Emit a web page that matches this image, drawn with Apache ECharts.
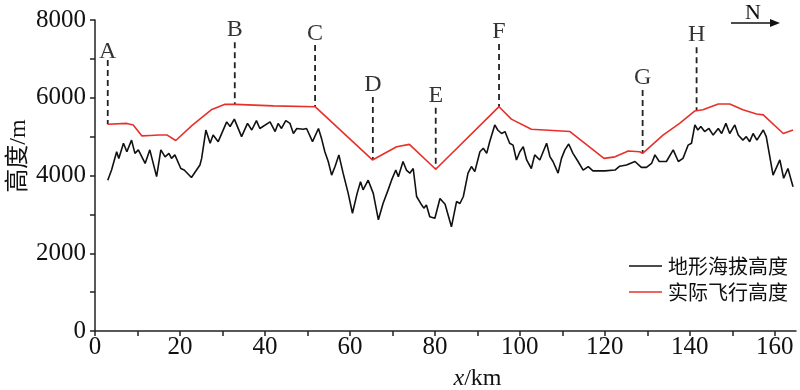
<!DOCTYPE html>
<html>
<head>
<meta charset="utf-8">
<script src="https://cdn.jsdelivr.net/npm/echarts@6/dist/echarts.min.js"></script>
<style>html,body{margin:0;padding:0;background:#fff}#c{width:800px;height:390px}</style>
</head>
<body>
<div id="c"></div>
<script>
// ---- data ----
const terrainX = [3.0,3.9,5.1,5.6,6.7,7.5,8.6,9.4,10.2,11.8,12.9,14.5,15.5,16.5,17.4,18.0,18.8,20.2,21.0,22.7,24.7,25.1,26.1,27.1,27.8,29.0,31.0,31.8,32.8,34.5,35.9,36.9,38.0,38.8,41.2,42.4,43.1,43.9,44.9,45.9,46.7,47.5,49.0,49.8,51.2,52.6,53.3,54.1,54.9,55.7,56.5,57.4,58.4,59.6,60.6,61.7,62.5,63.1,64.3,65.5,66.7,67.8,69.0,69.8,70.8,71.4,72.5,73.3,74.1,74.9,75.7,76.9,77.4,78.0,78.8,80.0,81.2,82.4,83.0,83.9,85.1,85.9,86.7,87.8,88.6,89.4,90.6,91.4,92.2,92.9,94.1,94.8,95.7,96.5,97.6,98.4,99.2,100.0,100.8,101.6,102.7,103.5,104.7,106.3,107.1,107.8,109.0,109.8,110.6,111.5,112.5,113.7,114.9,116.1,117.2,120.0,122.4,123.5,125.1,127.1,128.6,129.8,131.0,131.8,132.8,134.5,136.1,137.3,138.4,139.6,140.4,141.2,141.9,142.6,143.5,144.5,145.5,146.7,147.5,148.5,149.4,150.6,151.4,152.5,153.3,154.1,154.9,155.8,157.3,158.0,159.6,161.2,162.1,163.1,164.3];
const terrainY = [3880,4140,4610,4440,4830,4610,4910,4570,4660,4310,4660,3970,4660,4480,4570,4440,4530,4180,4140,3950,4270,4440,5170,4830,5040,4870,5380,5260,5450,5000,5340,5170,5410,5210,5380,5130,5340,5210,5410,5340,5080,5210,5190,5210,4870,5210,4960,4610,4360,4010,4230,4530,4060,3540,3030,3540,3840,3630,3880,3540,2860,3280,3630,3880,4140,3970,4360,4140,4060,4180,3460,3240,3160,3240,2940,2900,3410,3260,3030,2680,3330,3280,3460,4060,4230,4100,4610,4700,4570,4870,5300,5170,5080,5130,4830,4780,4400,4610,4740,4400,4180,4530,4400,4830,4480,4360,4060,4440,4660,4810,4570,4360,4140,4230,4120,4120,4140,4240,4270,4360,4210,4210,4310,4530,4360,4360,4660,4360,4440,4780,4830,5300,5170,5260,5130,5210,5040,5210,5080,5340,5080,5300,5040,4910,5000,4870,5080,4910,5170,5000,4010,4400,3930,4180,3710];
const flightX = [3.0,7.5,9.0,11.0,13.0,15.0,17.0,19.0,23.0,27.5,30.6,33.0,42.0,51.8,65.3,71.0,74.0,80.2,95.1,98.0,102.7,111.8,119.8,122.4,124.7,125.5,128.2,128.9,133.7,137.6,141.2,143.1,146.7,149.4,152.5,155.7,157.3,162.0,164.3];
const flightY = [5320,5340,5300,5020,5030,5040,5040,4900,5300,5700,5830,5830,5790,5770,4400,4740,4800,4160,5770,5450,5190,5130,4440,4480,4590,4630,4610,4570,5040,5340,5660,5690,5840,5840,5690,5580,5560,5080,5170];
const markerNames = ['A','B','C','D','E','F','G','H'];
const markerX = [3.0,32.9,51.8,65.4,80.2,95.1,128.9,141.6];
const markerLabelY = [7180,7740,7660,6330,6040,7690,6510,7610];
const markerTopY = [6970,7430,7360,6020,5740,7380,6200,7300];
const markerBottomY = [5320,5830,5770,4400,4160,5770,4570,5670];
const xTicks = [0,20,40,60,80,100,120,140,160];
const xMinorTicks = [0,10,20,30,40,50,60,70,80,90,100,110,120,130,140,150,160];
const yTicks = [0,2000,4000,6000,8000];
const yMinorTicks = [0,1000,2000,3000,4000,5000,6000,7000,8000];
const seriesNames = ['地形海拔高度','实际飞行高度'];
const yAxisTitle = '高度/m';

// ---- build ----
const zip = (a,b) => a.map((v,i)=>[v,b[i]]);
const dashData = [];
markerX.forEach((x,i)=>{ dashData.push([x,markerTopY[i]],[x,markerBottomY[i]],'-'); });
const serif = "'Liberation Serif','Noto Sans CJK SC',serif";
const cjk = "'Noto Sans CJK SC','Liberation Serif',sans-serif";

const chart = echarts.init(document.getElementById('c'), null, {renderer:'canvas'});
chart.setOption({
  animation:false,
  backgroundColor:'#fff',
  grid:{left:95,right:4,top:20,bottom:59,containLabel:false,outerBoundsMode:'none'},
  legend:{
    data:seriesNames.map(n=>({name:n, icon:'rect'})), orient:'vertical', left:624, top:251,
    itemWidth:33, itemHeight:1.6, itemGap:6,
    textStyle:{fontFamily:cjk, fontSize:20, color:'#111', lineHeight:20, padding:[0,0,0,1]}
  },
  xAxis:{
    type:'value', min:0, max:165,
    name:'{i|x}/km', nameLocation:'middle', nameGap:36,
    nameTextStyle:{fontFamily:serif, fontSize:24, color:'#111', padding:[0,0,0,64],
      rich:{i:{fontFamily:serif, fontStyle:'italic', fontSize:24, color:'#111'}}},
    axisLine:{lineStyle:{color:'#222', width:1.5}},
    axisTick:{show:true, customValues:xMinorTicks, length:5, inside:false, lineStyle:{color:'#222', width:1.5}},
    axisLabel:{customValues:xTicks, fontFamily:serif, fontSize:25, color:'#111', margin:4},
    splitLine:{show:false}
  },
  yAxis:{
    type:'value', min:0, max:8000,
    axisLine:{show:true, lineStyle:{color:'#222', width:1.5}},
    axisTick:{show:true, customValues:yMinorTicks, length:5, lineStyle:{color:'#222', width:1.5}},
    axisLabel:{customValues:yTicks, formatter:v=>String(v), fontFamily:serif, fontSize:25, color:'#111', margin:9},
    splitLine:{show:false}
  },
  series:[
    {name:seriesNames[0], type:'line', data:zip(terrainX,terrainY), symbol:'none',
      lineStyle:{color:'#111', width:1.6}, itemStyle:{color:'#111'}, z:3},
    {name:seriesNames[1], type:'line', data:zip(flightX,flightY), symbol:'none',
      lineStyle:{color:'#e8302a', width:1.6}, itemStyle:{color:'#e8302a'}, z:3},
    {name:'markers', type:'line', data:dashData, symbol:'none', connectNulls:false,
      lineStyle:{color:'#222', width:1.8, type:[6,4]}, z:2},
    {name:'markerLabels', type:'scatter', symbolSize:0,
      data:markerX.map((x,i)=>({value:[x,markerLabelY[i]], name:markerNames[i]})),
      label:{show:true, position:'inside', formatter:p=>p.name, fontFamily:serif, fontSize:24, color:'#000'}, z:4}
  ],
  graphic:[
    {type:'text', x:19, y:156, rotation:Math.PI/2,
      style:{text:yAxisTitle, font:"24px 'Liberation Serif','Noto Sans CJK SC',serif", fill:'#111', align:'center', verticalAlign:'middle'}},
    {type:'text', left:745, top:2, style:{text:'N', font:"22px 'Liberation Serif', serif", fill:'#111'}},
    {type:'line', shape:{x1:731, y1:23, x2:772, y2:23}, style:{stroke:'#111', lineWidth:1.5}},
    {type:'polygon', shape:{points:[[780,23],[770,19],[770,27]]}, style:{fill:'#111'}}
  ]
});
</script>
</body>
</html>
